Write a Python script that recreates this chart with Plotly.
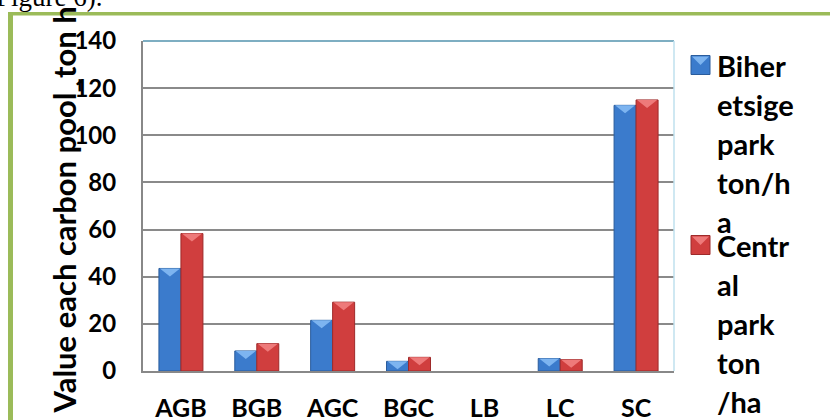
import numpy as np
import plotly.graph_objects as go

# Carbon pools and stock per park (ton/ha)
categories = ["AGB", "BGB", "AGC", "BGC", "LB", "LC", "SC"]
biheretsige = [43.5, 8.5, 21.5, 4.1, 0.0, 5.3, 112.7]
central = [58.3, 11.6, 29.2, 5.8, 0.0, 4.8, 115.0]
y_ticks = [0, 20, 40, 60, 80, 100, 120, 140]
legend_lines = [["Biher", "etsige", "park", "ton/h", "a"],
                ["Centr", "al", "park", "ton", "/ha"]]
y_title = "Value each carbon pool_ton h"

W, H = 830, 420
L, R, T, B = 143, 156, 41, 49
pw, ph = W - L - R, H - T - B


def px(x):
    return (x - L) / pw


def py(y):
    return 1 - (y - T) / ph


FONT = "Lato"
BLUE, BLUE_D, BLUE_L = "#3b7bcc", "#2a5c9c", "#7db4f0"
RED, RED_D, RED_L = "#d03e3e", "#9e2a2a", "#ee7a7a"

idx = np.arange(len(categories))
gap = 0.42
bw = (1 - gap) / 2

fig = go.Figure()
fig.add_bar(x=idx, y=biheretsige, name="Biheretsige park ton/ha",
            marker=dict(color=BLUE, line=dict(color=BLUE_D,
                                              width=[1 if v > 0 else 0 for v in biheretsige])))
fig.add_bar(x=idx, y=central, name="Central park ton/ha",
            marker=dict(color=RED, line=dict(color=RED_D,
                                             width=[1 if v > 0 else 0 for v in central])))

# light bevel triangle on top of each bar
depth = 3.4
for vals, off, col in [(biheretsige, -bw / 2, BLUE_L), (central, bw / 2, RED_L)]:
    xs, ys = [], []
    for i, v in enumerate(vals):
        if v <= 0:
            continue
        c = i + off
        h = bw / 2 - 0.012
        d = min(depth, v)
        xs += [c - h, c + h, c, c - h, None]
        ys += [v, v, v - d, v, None]
    fig.add_scatter(x=xs, y=ys, mode="lines", fill="toself", fillcolor=col,
                    line=dict(width=0), hoverinfo="skip", showlegend=False)

fig.update_layout(
    width=W, height=H, margin=dict(l=L, r=R, t=T, b=B),
    paper_bgcolor="white", plot_bgcolor="white",
    barmode="group", bargap=gap, bargroupgap=0, showlegend=False,
    font=dict(family=FONT, color="black"),
)
fig.update_xaxes(range=[-0.5, len(categories) - 0.5], tickvals=idx,
                 ticktext=categories, showgrid=False, zeroline=False,
                 showline=True, linecolor="#888888", linewidth=2,
                 ticks="", ticklabelstandoff=14, automargin=False,
                 tickfont=dict(family=FONT, size=25, weight="bold"))
fig.update_yaxes(range=[0, 140], tickvals=y_ticks, showgrid=True,
                 gridcolor="#8a8a8a", gridwidth=1.5, zeroline=False,
                 showline=True, linecolor="#888888", linewidth=2,
                 ticks="", ticklabelstandoff=20, automargin=False,
                 tickfont=dict(family=FONT, size=24, weight="bold"))

shapes = []
# plot-area top and right edges
shapes.append(dict(type="line", xref="paper", yref="paper", x0=0, x1=1, y0=1, y1=1,
                   line=dict(color="#7eaec2", width=2)))
shapes.append(dict(type="line", xref="paper", yref="paper", x0=1, x1=1, y0=0, y1=1,
                   line=dict(color="#bfe0ee", width=1.5)))
# green frame
shapes.append(dict(type="rect", xref="paper", yref="paper", x0=px(8), x1=px(13),
                   y0=py(H + 5), y1=py(12), fillcolor="#9bbb59", line=dict(width=0)))
shapes.append(dict(type="rect", xref="paper", yref="paper", x0=px(8), x1=px(W + 5),
                   y0=py(15.5), y1=py(12), fillcolor="#9bbb59", line=dict(width=0)))

annotations = []
# legend
for k, (lines, c, cd, cl) in enumerate([(legend_lines[0], BLUE, BLUE_D, BLUE_L),
                                         (legend_lines[1], RED, RED_D, RED_L)]):
    y0 = 65 if k == 0 else 245
    shapes.append(dict(type="rect", xref="paper", yref="paper", x0=px(691), x1=px(710),
                       y0=py(y0 + 9.5), y1=py(y0 - 9.5), fillcolor=c,
                       line=dict(color=cd, width=1)))
    shapes.append(dict(type="path", xref="paper", yref="paper",
                       path=f"M {px(692)},{py(y0 - 8.5)} L {px(709)},{py(y0 - 8.5)} "
                            f"L {px(700.5)},{py(y0)} Z",
                       fillcolor=cl, line=dict(width=0)))
    for j, t in enumerate(lines):
        annotations.append(dict(text=t, xref="paper", yref="paper", x=px(715),
                                y=py(y0 + j * 39), xanchor="left", yanchor="middle",
                                showarrow=False,
                                font=dict(family=FONT, size=29, weight="bold")))

# y axis title
annotations.append(dict(text=y_title, xref="paper", yref="paper", x=px(63),
                        y=py(416), xanchor="center", yanchor="bottom", textangle=-90,
                        showarrow=False, font=dict(family=FONT, size=31, weight="bold")))
# caption fragment above the frame
annotations.append(dict(text="Figure 6).", xref="paper", yref="paper", x=px(-6),
                        y=py(13.5), xanchor="left", yanchor="bottom", showarrow=False,
                        font=dict(family="Liberation Serif", size=27, color="black")))

fig.update_layout(shapes=shapes, annotations=annotations)
fig.write_html("out.html")
